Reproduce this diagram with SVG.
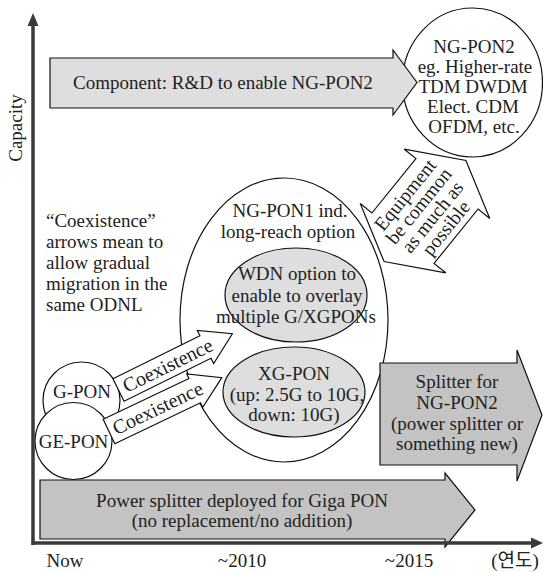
<svg xmlns="http://www.w3.org/2000/svg" width="543" height="572" viewBox="0 0 543 572">
<style>
.shape{stroke:#111;stroke-width:1.2;fill:#fff}
.light{fill:#dedede}
.dark{fill:#c3c3c3}
.t{font-size:19px;fill:#222}
.m{text-anchor:middle}
.axis{stroke:#3a3a3a;stroke-width:3.5;fill:none}
.axhead{fill:#3a3a3a}
</style>
<rect width="543" height="572" fill="#fff"/>
<g font-family="'Liberation Serif', Tinos, 'Times New Roman', 'DejaVu Serif', 'Noto Serif', serif">

<g id="ng-pon2">
<ellipse class="shape" cx="472.5" cy="82.5" rx="70" ry="74.5"/>
<text class="t m" x="474" y="53">NG-PON2</text>
<text class="t m" x="475" y="73">eg. Higher-rate</text>
<text class="t m" x="473" y="93">TDM DWDM</text>
<text class="t m" x="473" y="113">Elect. CDM</text>
<text class="t m" x="474" y="133">OFDM, etc.</text>
</g>

<g id="component-arrow">
<polygon class="shape light" points="50,58 393,58 393,50 417,82.5 393,115 393,108 50,108"/>
<text class="t m" x="223" y="89">Component: R&amp;D to enable NG-PON2</text>
</g>

<g id="ng-pon1">
<ellipse class="shape" cx="284" cy="320" rx="104" ry="142"/>
<text class="t m" x="290" y="217">NG-PON1 ind.</text>
<text class="t m" x="288" y="238">long-reach option</text>
</g>

<g id="wdn">
<ellipse class="shape light" cx="296" cy="295" rx="71" ry="47"/>
<text class="t m" x="297" y="280">WDN option to</text>
<text class="t m" x="297" y="302">enable to overlay</text>
<text class="t m" x="296" y="323">multiple G/XGPONs</text>
</g>

<g id="xg-pon">
<ellipse class="shape light" cx="294" cy="392" rx="71" ry="45"/>
<text class="t m" x="294" y="380">XG-PON</text>
<text class="t m" x="297" y="401">(up: 2.5G to 10G,</text>
<text class="t m" x="294" y="421">down: 10G)</text>
</g>

<g id="g-pon">
<circle class="shape" cx="81.5" cy="400.5" r="38.5"/>
<text class="t m" x="82" y="398">G-PON</text>
</g>

<g id="ge-pon">
<circle class="shape" cx="73.5" cy="441" r="38.5"/>
<text class="t m" x="73.5" y="448">GE-PON</text>
</g>

<g id="note">
<text class="t" x="46" y="227">“Coexistence”</text>
<text class="t" x="46" y="248">arrows mean to</text>
<text class="t" x="46" y="269">allow gradual</text>
<text class="t" x="46" y="290">migration in the</text>
<text class="t" x="46" y="311">same ODNL</text>
</g>

<g id="connectors">
<g id="coexistence-1" transform="translate(118.5,390) rotate(-26.3)">
<polygon class="shape" points="0,-12.5 97,-12.5 97,-18.5 127,0 97,18.5 97,12.5 0,12.5"/>
<text class="t m" x="55" y="6.5" style="font-size:20px">Coexistence</text>
</g>
<g id="coexistence-2" transform="translate(109,431.5) rotate(-25.5)">
<polygon class="shape" points="0,-13.5 95,-13.5 95,-18.5 125,0 95,18.5 95,13.5 0,13.5"/>
<text class="t m" x="54" y="6.5" style="font-size:20px">Coexistence</text>
</g>
<g id="equipment-arrow" transform="translate(425,211) rotate(-51)">
<polygon class="shape" points="-65,0 -35,-55 -35,-40 35,-40 35,-55 65,0 35,55 35,40 -35,40 -35,55"/>
<text class="t m" x="0" y="-19" style="font-size:19.5px">Equipment</text>
<text class="t m" x="0" y="-1.5" style="font-size:19.5px">be common</text>
<text class="t m" x="0" y="16" style="font-size:19.5px">as much as</text>
<text class="t m" x="0" y="33.5" style="font-size:19.5px">possible</text>
</g>
</g>

<g id="splitter-ng-pon2">
<polygon class="shape dark" points="380,363 517,363 517,350 542,415 517,481 517,465 380,465"/>
<text class="t m" x="457" y="388">Splitter for</text>
<text class="t m" x="457" y="409">NG-PON2</text>
<text class="t m" x="457" y="429.5">(power splitter or</text>
<text class="t m" x="457" y="450">something new)</text>
</g>

<g id="power-splitter">
<polygon class="shape dark" points="40,480 445,480 445,473 475,510 445,547 445,539 40,539"/>
<text class="t m" x="242" y="507">Power splitter deployed for Giga PON</text>
<text class="t m" x="242" y="527">(no replacement/no addition)</text>
</g>

<g id="axes">
<line class="axis" x1="33" y1="545" x2="33" y2="24"/>
<polygon class="axhead" points="33,13 27.5,26 38.5,26"/>
<line class="axis" x1="31.5" y1="543" x2="532" y2="543"/>
<polygon class="axhead" points="543,543 531,537.5 531,548.5"/>
<text class="t m" x="22" y="128" transform="rotate(-90 22 128)">Capacity</text>
<text class="t m" x="65" y="567">Now</text>
<text class="t m" x="242" y="567">~2010</text>
<text class="t m" x="409" y="567">~2015</text>
<text class="t m" x="515" y="567" font-family="'Liberation Serif', 'Noto Sans CJK KR', serif">(연도)</text>
</g>
</g>
</svg>
